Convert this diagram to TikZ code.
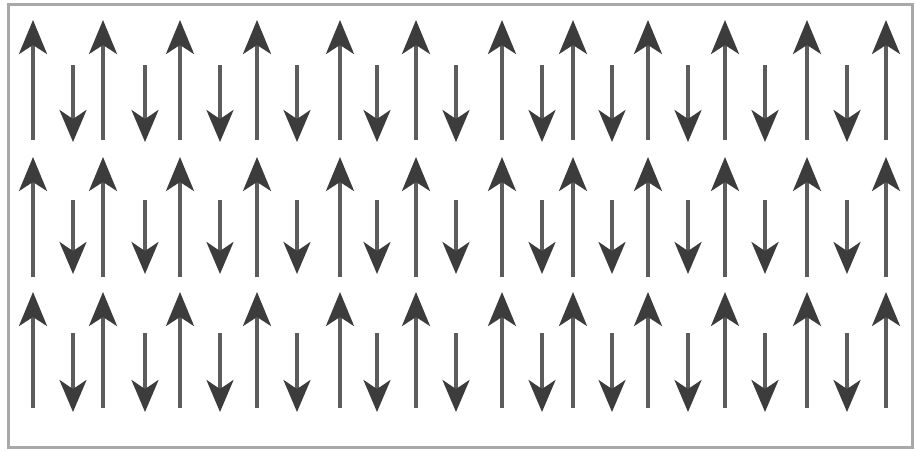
\documentclass[tikz,border=0pt]{standalone}
\usetikzlibrary{arrows.meta}
\definecolor{arr}{HTML}{5C5C5C}
\definecolor{arrhead}{HTML}{3C3C3C}
\definecolor{frm}{HTML}{A8A8A8}
\begin{document}
\begin{tikzpicture}[x=1pt,y=-1pt,
  spin/.style={draw=arr,line width=3.4pt,
    -{Stealth[length=34pt,width=28pt,inset=9pt,color=arrhead]}},
  spinsmall/.style={draw=arr,line width=3.4pt,
    -{Stealth[length=32pt,width=27pt,inset=9pt,color=arrhead]}}]
\useasboundingbox (0,0) rectangle (915,450);
\fill[white] (0,0) rectangle (915,450);
\draw[frm,line width=3pt] (8.5,4.5) rectangle (912,447);
% rows: up tail, up tip, down tail, down tip
\foreach \ut/\uh/\dt/\dh in {140/20/65/142, 277/157/200/274, 408/292/333/412}{
  \foreach \x in {33,103,180,257,340,416,502,573,648,725,807,886}{
    \draw[spin] (\x,\ut) -- (\x,\uh);
  }
  \foreach \x in {73,145,220,297,377,456,542,612,688,765,847}{
    \draw[spinsmall] (\x,\dt) -- (\x,\dh);
  }
}
\end{tikzpicture}
\end{document}
